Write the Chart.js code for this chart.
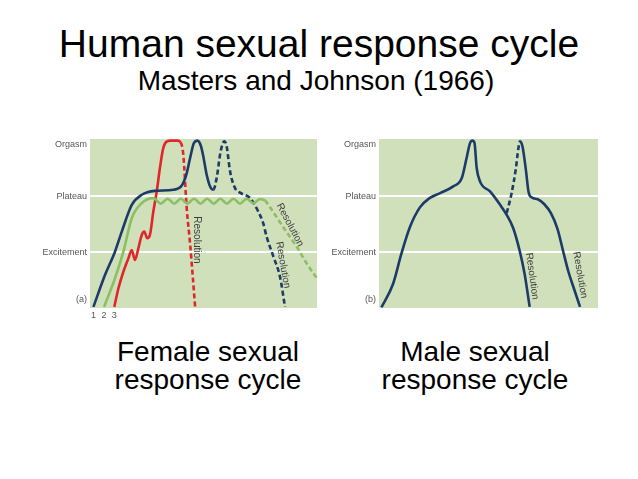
<!DOCTYPE html>
<html>
<head>
<meta charset="utf-8">
<script src="https://cdn.jsdelivr.net/npm/chart.js@4"></script>
<style>
    body { margin: 0; background: #fff; font-family: 'Liberation Sans', Arial, sans-serif; }
    .page { position: relative; width: 638px; height: 479px; overflow: hidden; }
    .txt { position: absolute; white-space: nowrap; text-align: center; color: #000; }
    canvas { position: absolute; }
</style>
</head>
<body>
<div class="page">
    <div class="txt" style="left:19px; width:600px; top:23.5px; font-size:39px; line-height:39px;">Human sexual response cycle</div>
    <div class="txt" style="left:16px; width:600px; top:66.8px; font-size:28px; line-height:28px;">Masters and Johnson (1966)</div>
    <canvas id="femaleChart" width="330" height="200" style="left:0; top:130px;"></canvas>
    <canvas id="maleChart" width="300" height="200" style="left:330px; top:130px;"></canvas>
    <div class="txt" style="left:58px; width:300px; top:337.5px; font-size:28px; line-height:28.6px;">Female sexual<br>response cycle</div>
    <div class="txt" style="left:325px; width:300px; top:337.5px; font-size:28px; line-height:28.6px;">Male sexual<br>response cycle</div>
</div>
<script>
// levels on the y axis (0 = baseline, 3 = orgasm)
const levelTicks = [0.15, 1, 2, 2.94];
const femaleLevels = ['(a)', 'Excitement', 'Plateau', 'Orgasm'];
const maleLevels = ['(b)', 'Excitement', 'Plateau', 'Orgasm'];

// start labels under the female panel
const startTicks = [1.5, 6.2, 10.7];
const startLabels = ['1', '2', '3'];

// female pattern 1 (blue)
const female1X = [1.5, 6.6, 11.0, 14.0, 18.4, 22.8, 28.6, 36.7, 40.5, 42.5, 44.1, 45.8, 47.3, 48.9, 50.0, 51.4, 52.9, 54.3, 55.8, 57.3, 58.3, 59.2, 60.2, 61.7, 63.9, 66.5, 70.5, 74.1, 76.3, 77.8, 80.8, 83.7, 85.9];
const female1Y = [0.02, 0.59, 1.01, 1.37, 1.85, 2.03, 2.10, 2.12, 2.20, 2.40, 2.69, 2.96, 3.0, 2.9, 2.7, 2.39, 2.18, 2.12, 2.33, 2.75, 2.93, 2.99, 2.9, 2.45, 2.15, 2.06, 1.97, 1.73, 1.52, 1.28, 0.92, 0.56, 0.02];

// female pattern 2 (green)
const female2X = [6.2, 11.0, 14.7, 18.4, 22.8, 27.9, 31.2, 34.2, 37.1, 40.0, 42.9, 45.8, 48.7, 51.6, 54.5, 57.4, 60.3, 63.2, 66.1, 69.0, 71.9, 74.8, 77.0, 79.4, 85.3, 91.2, 95.6, 100];
const female2Y = [0.02, 0.53, 1.01, 1.61, 1.88, 1.97, 1.87, 1.96, 1.87, 1.96, 1.87, 1.96, 1.87, 1.96, 1.87, 1.96, 1.87, 1.96, 1.87, 1.96, 1.88, 1.95, 1.93, 1.80, 1.44, 1.09, 0.79, 0.53];

// female pattern 3 (red)
const female3X = [10.7, 12.5, 14.7, 16.9, 18.4, 19.8, 21.3, 22.8, 23.9, 25.2, 26.4, 27.9, 29.4, 30.8, 32.3, 34.0, 35.5, 38.5, 39.9, 41.1, 42.6, 44.1, 45.3, 46.3];
const female3Y = [0.02, 0.35, 0.65, 0.89, 1.04, 0.86, 1.07, 1.31, 1.37, 1.25, 1.31, 1.73, 2.09, 2.51, 2.87, 2.99, 3.0, 3.0, 2.97, 2.75, 1.79, 1.15, 0.55, 0.02];

// male: single orgasm, and second orgasm after refractory dip
const maleAX = [1.1, 6.4, 10.2, 14.0, 18.6, 23.1, 27.9, 33.9, 37.8, 40.0, 41.6, 42.6, 43.6, 44.6, 46.1, 50.7, 55.3, 58.3, 61.3, 64.2, 66.5, 68.8];
const maleAY = [0.01, 0.43, 0.97, 1.44, 1.80, 1.97, 2.06, 2.18, 2.33, 2.69, 2.96, 3.0, 2.96, 2.51, 2.27, 2.09, 1.85, 1.67, 1.43, 1.03, 0.61, 0.02];
const maleBX = [58.3, 60.5, 62.5, 63.6, 64.4, 65.5, 67.0, 68.3, 69.8, 72.5, 75.5, 78.5, 81.5, 84.2, 86.5, 89.0, 91.8];
const maleBY = [1.70, 2.05, 2.50, 2.85, 2.99, 2.90, 2.50, 2.08, 1.98, 1.95, 1.86, 1.70, 1.42, 1.00, 0.65, 0.35, 0.02];

const BLUE = '#1c3b68';
const RED = '#e1262b';
const GREEN = '#8cbf63';
const PANEL = '#cfe0bb';

Chart.defaults.font.family = "'Liberation Sans', Arial, sans-serif";

function toPoints(xs, ys) {
    return xs.map((x, i) => ({ x: x, y: ys[i] }));
}

function curve(xs, ys, color, dashed) {
    return {
        data: toPoints(xs, ys),
        borderColor: color,
        borderWidth: 2.6,
        pointRadius: 0,
        cubicInterpolationMode: 'monotone',
        clip: false,
        segment: {
            borderDash: ctx => dashed(ctx.p0.parsed.x) ? [5, 3] : undefined
        }
    };
}

const panelBackground = {
    id: 'panelBackground',
    beforeDraw(chart) {
        const a = chart.chartArea;
        const ctx = chart.ctx;
        ctx.save();
        ctx.fillStyle = PANEL;
        ctx.fillRect(a.left, a.top, a.right - a.left, a.bottom - a.top);
        ctx.restore();
    }
};

// rotated "Resolution" notes, anchored in data coordinates
const resolutionNotes = {
    id: 'resolutionNotes',
    afterDatasetsDraw(chart, args, opts) {
        const ctx = chart.ctx;
        opts.notes.forEach(n => {
            const px = chart.scales.x.getPixelForValue(n.x);
            const py = chart.scales.y.getPixelForValue(n.y);
            ctx.save();
            ctx.translate(px, py);
            ctx.rotate(n.angle * Math.PI / 180);
            ctx.font = "10px 'Liberation Sans', Arial, sans-serif";
            ctx.fillStyle = '#3c3c3c';
            ctx.textAlign = 'center';
            ctx.textBaseline = 'middle';
            ctx.fillText('Resolution', 0, 0);
            ctx.restore();
        });
    }
};

function buildOptions(levels, axisWidth, rightPad, showStarts, notes) {
    return {
        responsive: false,
        animation: false,
        layout: { padding: { top: 9, right: rightPad, bottom: 0, left: 0 } },
        plugins: {
            legend: { display: false },
            tooltip: { enabled: false },
            resolutionNotes: { notes: notes }
        },
        scales: {
            x: {
                type: 'linear',
                min: 0,
                max: 100,
                grid: { display: false, drawTicks: false },
                border: { display: false },
                afterBuildTicks: s => { s.ticks = showStarts ? startTicks.map(v => ({ value: v })) : []; },
                afterFit: s => { s.height = 22; },
                ticks: {
                    display: showStarts,
                    padding: 2,
                    color: '#555',
                    font: { size: 9 },
                    maxRotation: 0,
                    autoSkip: false,
                    callback: (v, i) => startLabels[i]
                }
            },
            y: {
                min: 0,
                max: 3.03,
                afterBuildTicks: s => { s.ticks = levelTicks.map(v => ({ value: v })); },
                afterFit: s => { s.width = axisWidth; },
                grid: {
                    drawTicks: false,
                    lineWidth: 2,
                    color: ctx => (ctx.tick && (ctx.tick.value === 1 || ctx.tick.value === 2)) ? '#ffffff' : 'rgba(0,0,0,0)'
                },
                border: { display: false },
                ticks: {
                    padding: 3,
                    color: '#555',
                    font: { size: 9 },
                    autoSkip: false,
                    callback: (v, i) => levels[i]
                }
            }
        }
    };
}

new Chart(document.getElementById('femaleChart'), {
    type: 'line',
    data: {
        datasets: [
            curve(female2X, female2Y, GREEN, x => x >= 77.0),
            curve(female1X, female1Y, BLUE, x => x >= 54.3),
            curve(female3X, female3Y, RED, x => x >= 39.9)
        ]
    },
    options: buildOptions(femaleLevels, 90, 13, true, [
        { x: 47.1, y: 1.22, angle: 90 },
        { x: 85.0, y: 0.77, angle: 80 },
        { x: 88.1, y: 1.49, angle: 62 }
    ]),
    plugins: [panelBackground, resolutionNotes]
});

new Chart(document.getElementById('maleChart'), {
    type: 'line',
    data: {
        datasets: [
            curve(maleAX, maleAY, BLUE, x => false),
            curve(maleBX, maleBY, BLUE, x => x < 64.4)
        ]
    },
    options: buildOptions(maleLevels, 49, 32, false, [
        { x: 69.9, y: 0.57, angle: 82 },
        { x: 91.8, y: 0.59, angle: 80 }
    ]),
    plugins: [panelBackground, resolutionNotes]
});
</script>
</body>
</html>
